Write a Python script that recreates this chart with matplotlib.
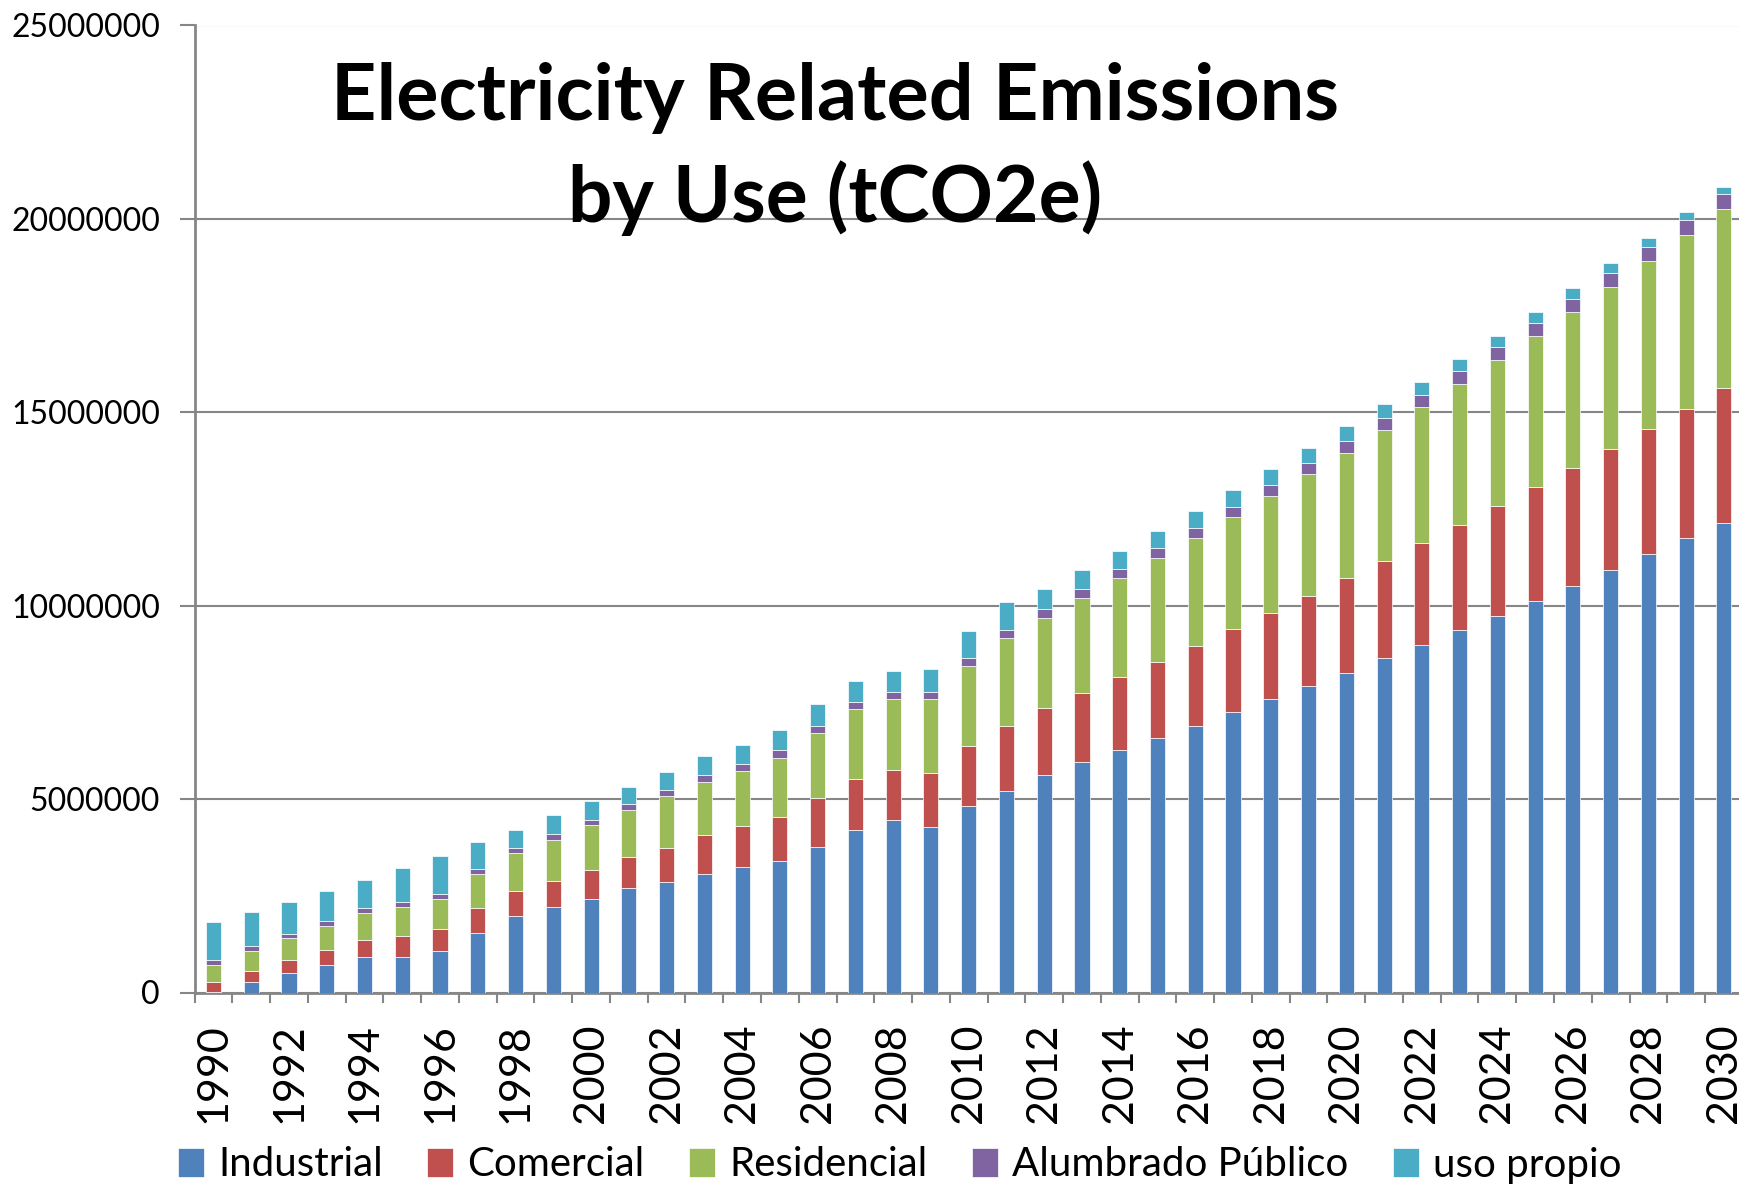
import matplotlib
matplotlib.use("Agg")
import matplotlib.pyplot as plt
import numpy as np

years = list(range(1990, 2031))
industrial = [0.02, 0.27, 0.50, 0.70, 0.92, 0.93, 1.06, 1.55, 1.99, 2.20,
              2.41, 2.70, 2.85, 3.07, 3.24, 3.40, 3.76, 4.19, 4.45, 4.29,
              4.82, 5.21, 5.63, 5.95, 6.27, 6.59, 6.90, 7.24, 7.58, 7.92,
              8.27, 8.64, 8.99, 9.36, 9.74, 10.13, 10.52, 10.93, 11.33, 11.74, 12.15]
comercial = [0.25, 0.29, 0.35, 0.41, 0.44, 0.54, 0.57, 0.64, 0.63, 0.67,
             0.76, 0.81, 0.89, 1.01, 1.06, 1.14, 1.26, 1.34, 1.29, 1.39,
             1.54, 1.67, 1.72, 1.79, 1.88, 1.96, 2.06, 2.15, 2.23, 2.33,
             2.44, 2.51, 2.63, 2.72, 2.83, 2.94, 3.04, 3.12, 3.24, 3.34, 3.47]
residencial = [0.45, 0.50, 0.55, 0.62, 0.69, 0.75, 0.80, 0.88, 0.98, 1.08,
               1.16, 1.20, 1.34, 1.36, 1.43, 1.53, 1.68, 1.79, 1.85, 1.91,
               2.08, 2.29, 2.34, 2.46, 2.56, 2.68, 2.80, 2.90, 3.03, 3.15,
               3.25, 3.40, 3.51, 3.66, 3.78, 3.90, 4.04, 4.19, 4.35, 4.51, 4.63]
alumbrado = [0.12, 0.13, 0.12, 0.13, 0.13, 0.11, 0.12, 0.13, 0.14, 0.15,
             0.13, 0.16, 0.16, 0.18, 0.18, 0.19, 0.20, 0.20, 0.19, 0.19,
             0.20, 0.20, 0.22, 0.23, 0.24, 0.25, 0.24, 0.27, 0.27, 0.29,
             0.29, 0.29, 0.31, 0.32, 0.34, 0.33, 0.34, 0.35, 0.35, 0.37, 0.39]
uso_propio = [0.97, 0.88, 0.82, 0.76, 0.74, 0.89, 0.99, 0.68, 0.47, 0.48,
              0.48, 0.45, 0.46, 0.49, 0.49, 0.52, 0.55, 0.53, 0.53, 0.59,
              0.71, 0.73, 0.52, 0.49, 0.47, 0.46, 0.45, 0.43, 0.42, 0.39,
              0.39, 0.37, 0.35, 0.32, 0.29, 0.30, 0.28, 0.27, 0.23, 0.21, 0.19]

series_names = ["Industrial", "Comercial", "Residencial", "Alumbrado Público", "uso propio"]
series_vals = [industrial, comercial, residencial, alumbrado, uso_propio]
colors = ["#4F81BD", "#C0504D", "#9BBB59", "#8064A2", "#4BACC6"]
yticks = [0, 5000000, 10000000, 15000000, 20000000, 25000000]

FONT = "Lato"
plt.rcParams["font.family"] = [FONT, "DejaVu Sans"]

fig = plt.figure(figsize=(17.4, 11.85), dpi=100)
ax = fig.add_axes([194.6 / 1740, 1 - 992.5 / 1185, (1742.8 - 194.6) / 1740, (992.5 - 25.5) / 1185])

x = np.arange(len(years))
bottom = np.zeros(len(years))
handles = []
for name, vals, c in zip(series_names, series_vals, colors):
    v = np.array(vals) * 1e6
    h = ax.bar(x, v, width=0.40, bottom=bottom, color=c, edgecolor="#ffffff",
               linewidth=0.5, label=name, zorder=3)
    handles.append(h)
    bottom += v

ax.set_xlim(-0.5, len(years) - 0.5)
ax.set_ylim(0, 25000000)
ax.set_yticks(yticks)
ax.set_yticklabels([str(t) for t in yticks], fontsize=23)
ax.yaxis.grid(True, color="#868686", linewidth=1.5, zorder=0)
ax.set_axisbelow(True)

ax.set_xticks(x[::2])
ax.set_xticklabels([str(y) for y in years[::2]], rotation=90, fontsize=31)
ax.set_xticks(np.arange(-0.5, len(years), 1), minor=True)
ax.tick_params(axis="x", which="major", length=0, pad=22)
ax.tick_params(axis="x", which="minor", length=7, width=1.5, color="#868686")
ax.tick_params(axis="y", length=11, width=1.5, color="#868686", pad=14)

for s in ["top", "right"]:
    ax.spines[s].set_visible(False)
for s in ["left", "bottom"]:
    ax.spines[s].set_color("#868686")
    ax.spines[s].set_linewidth(2)

fig.text(0.48, 1 - 120 / 1185, "Electricity Related Emissions", ha="center",
         va="baseline", fontsize=57, fontweight="bold")
fig.text(0.48, 1 - 222 / 1185, "by Use (tCO2e)", ha="center",
         va="baseline", fontsize=56.5, fontweight="bold")

fig.legend(handles=handles, labels=series_names, loc="center",
           bbox_to_anchor=(0.517, 1 - 1165 / 1185), ncol=5, frameon=False,
           fontsize=29, handlelength=0.65, handleheight=0.7, handletextpad=0.35,
           columnspacing=1.1)

fig.savefig("out.png", dpi=100)
